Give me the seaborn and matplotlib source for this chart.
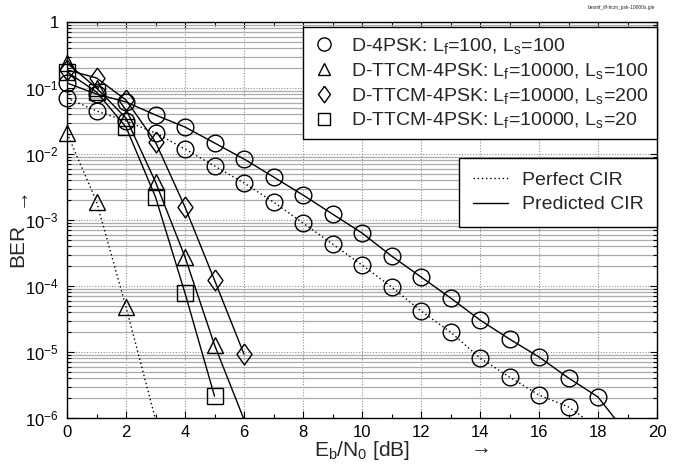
import numpy as np
import seaborn as sns
import matplotlib
matplotlib.use('Agg')
import matplotlib.pyplot as plt
from matplotlib.lines import Line2D
from matplotlib.ticker import FixedLocator, MultipleLocator, FuncFormatter, NullFormatter, LogLocator

# D-4PSK, Lf=100, Ls=100
snr_psk_pred = list(range(0, 20))
ber_psk_pred = [0.119, 0.081, 0.0614, 0.039, 0.0256, 0.0147, 0.0084, 0.00449, 0.00239, 0.00123,
                6.35e-4, 2.85e-4, 1.37e-4, 6.6e-5, 3.05e-5, 1.57e-5, 8.4e-6, 4.04e-6, 2.08e-6, 5.6e-7]
snr_psk_perf = list(range(0, 19))
ber_psk_perf = [0.0705, 0.0449, 0.0316, 0.0208, 0.0119, 0.00658, 0.00364, 0.00187, 9.0e-4, 4.33e-4,
                2.08e-4, 9.7e-5, 4.18e-5, 2.01e-5, 8.1e-6, 4.18e-6, 2.23e-6, 1.47e-6, 7.1e-7]

# D-TTCM-4PSK, Lf=10000, Ls=100
snr_ls100_perf = [0, 1, 2, 3]
ber_ls100_perf = [0.0208, 0.0019, 4.8e-5, 9.5e-7]
snr_ls100_pred = [0, 1, 2, 3, 4, 5, 6]
ber_ls100_pred = [0.239, 0.1, 0.035, 0.00377, 2.75e-4, 1.28e-5, 9.5e-7]

# D-TTCM-4PSK, Lf=10000, Ls=200
snr_ls200_pred = [0, 1, 2, 3, 4, 5, 6]
ber_ls200_pred = [0.188, 0.142, 0.0658, 0.0152, 0.00157, 1.23e-4, 9.3e-6]

# D-TTCM-4PSK, Lf=10000, Ls=20
snr_ls20_pred = [0, 1, 2, 3, 4, 5]
ber_ls20_pred = [0.175, 0.087, 0.0256, 0.00223, 7.8e-5, 2.15e-6]

legend_labels = ['D-4PSK: L$_\\mathrm{f}$=100, L$_\\mathrm{s}$=100',
                 'D-TTCM-4PSK: L$_\\mathrm{f}$=10000, L$_\\mathrm{s}$=100',
                 'D-TTCM-4PSK: L$_\\mathrm{f}$=10000, L$_\\mathrm{s}$=200',
                 'D-TTCM-4PSK: L$_\\mathrm{f}$=10000, L$_\\mathrm{s}$=20']

sns.set_theme(style='ticks')
plt.rcParams['font.family'] = ['Liberation Sans', 'DejaVu Sans']
plt.rcParams['mathtext.fontset'] = 'custom'
plt.rcParams['mathtext.rm'] = 'Liberation Sans'
plt.rcParams['mathtext.it'] = 'Liberation Sans:italic'
plt.rcParams['mathtext.default'] = 'regular'

diamond = [(0, 1), (0.72, 0), (0, -1), (-0.72, 0), (0, 1)]
DOT = (0, (1, 2))

fig = plt.figure(figsize=(6.74, 4.67), dpi=100)
ax = fig.add_axes([67 / 674, 1 - 418 / 467, 590 / 674, 396 / 467])
ax.set_yscale('log')
ax.set_xlim(0, 20)
ax.set_ylim(1e-6, 1)


def draw(x, y, ls, marker, ms):
    x = np.asarray(x)
    y = np.asarray(y)
    # curve, clipped at the frame
    sns.lineplot(x=x, y=y, ax=ax, color='black', linestyle=ls, lw=1.0, zorder=3)
    # markers of the points inside the BER range, not clipped (they overhang the left axis)
    keep = y >= 1e-6
    sns.lineplot(x=x[keep], y=y[keep], ax=ax, color='black', linestyle='none',
                 marker=marker, markersize=ms, markerfacecolor='none',
                 markeredgecolor='black', markeredgewidth=1.0, clip_on=False, zorder=4)


draw(snr_psk_perf, ber_psk_perf, DOT, 'o', 12)
draw(snr_psk_pred, ber_psk_pred, '-', 'o', 12)
draw(snr_ls100_perf, ber_ls100_perf, DOT, '^', 11)
draw(snr_ls100_pred, ber_ls100_pred, '-', '^', 11)
draw(snr_ls200_pred, ber_ls200_pred, '-', diamond, 15)
draw(snr_ls20_pred, ber_ls20_pred, '-', 's', 12)

# grid
ax.xaxis.set_major_locator(MultipleLocator(2))
ax.xaxis.set_minor_locator(MultipleLocator(1))
ax.yaxis.set_major_locator(FixedLocator([10.0 ** k for k in range(-6, 1)]))
ax.yaxis.set_minor_locator(LogLocator(base=10, subs=np.arange(2, 10), numticks=20))
ax.yaxis.set_minor_formatter(NullFormatter())
ax.yaxis.set_major_formatter(FuncFormatter(
    lambda v, p: '1' if abs(v - 1) < 1e-9 else '$10^{%d}$' % round(np.log10(v))))
ax.grid(which='minor', axis='y', color='#ababab', lw=0.9, ls='-', zorder=0)
ax.grid(which='major', color='#909090', lw=0.8, ls=(0, (1, 1.5)), zorder=0)
ax.set_axisbelow(True)
ax.tick_params(which='both', direction='in', top=True, right=True, colors='black',
               labelsize=12, width=0.8)
ax.tick_params(which='major', length=5, pad=6)
ax.tick_params(axis='x', which='major', pad=5)
ax.tick_params(which='minor', length=3)
for s in ax.spines.values():
    s.set_color('black')
    s.set_linewidth(1.0)

ax.set_xlabel('')
ax.set_ylabel('')
fig.text(362 / 674, 1 - 456 / 467, 'E$_\\mathrm{b}$/N$_0$ [dB]', fontsize=15,
         ha='center', va='baseline')
fig.text(481 / 674, 1 - 449 / 467, '\u2192', fontsize=15, ha='center', va='center')
fig.text(18 / 674, 1 - 245 / 467, 'BER', fontsize=15, rotation=90, ha='center', va='center')
fig.text(19 / 674, 1 - 197 / 467, '\u2192', fontsize=15, rotation=90, ha='center', va='center')
fig.text(621 / 674, 1 - 8 / 467, 'besmf_iff-ttcm_psk-10000s.gle', fontsize=3.5,
         ha='center', va='center')

mk = dict(ls='none', mfc='none', mec='black', mew=1.0, color='black')
h1 = [Line2D([], [], marker='o', ms=9.5, **mk),
      Line2D([], [], marker='^', ms=9, **mk),
      Line2D([], [], marker=diamond, ms=12, **mk),
      Line2D([], [], marker='s', ms=9, **mk)]
leg1 = ax.legend(h1, legend_labels, loc='upper right', bbox_to_anchor=(1.0, 0.987),
                 fontsize=14, frameon=True, fancybox=False, framealpha=1,
                 edgecolor='black', handlelength=1.2, handletextpad=0.8,
                 labelspacing=0.25, borderpad=0.45, borderaxespad=0)
leg1.get_frame().set_linewidth(1.0)
ax.add_artist(leg1)

h2 = [Line2D([], [], color='black', lw=1.0, ls=DOT),
      Line2D([], [], color='black', lw=1.0, ls='-')]
leg2 = ax.legend(h2, ['Perfect CIR', 'Predicted CIR'], loc='upper right',
                 bbox_to_anchor=(1.0, 0.657), fontsize=14, frameon=True, fancybox=False,
                 framealpha=1, edgecolor='black', handlelength=1.8, handletextpad=0.7,
                 labelspacing=0.35, borderpad=0.7, borderaxespad=0)
leg2.get_frame().set_linewidth(1.0)

fig.savefig('out.png', dpi=100)
